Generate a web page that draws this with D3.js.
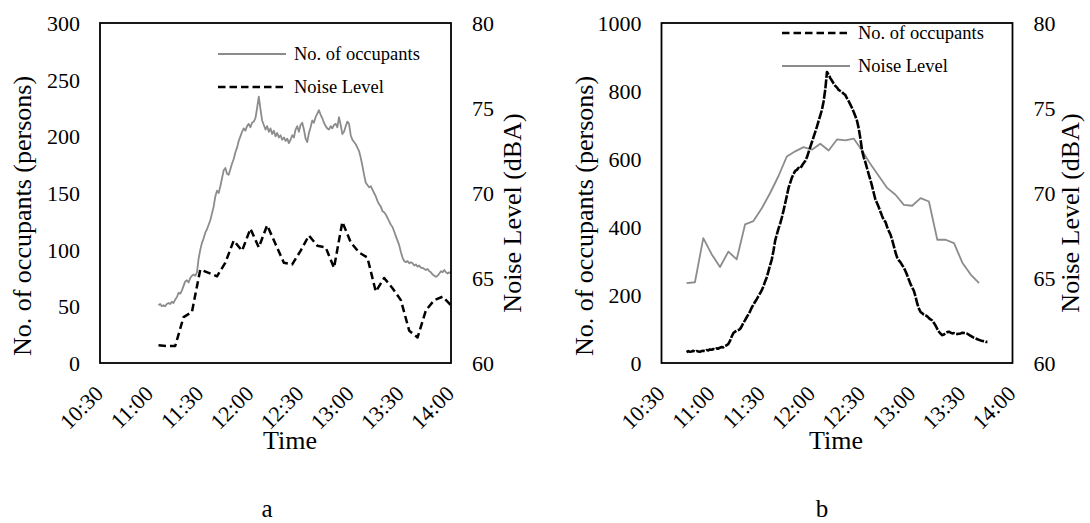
<!DOCTYPE html>
<html>
<head>
<meta charset="utf-8">
<script src="https://cdn.jsdelivr.net/npm/d3@7"></script>
<style>
  body { margin: 0; background: #fff; }
  svg text { font-family: "Liberation Serif", "Times New Roman", serif; fill: #000; }
</style>
</head>
<body>
<div id="chart"></div>
<script>
// x axis tick labels (shared by both panels)
var timeTicks = ["10:30", "11:00", "11:30", "12:00", "12:30", "13:00", "13:30", "14:00"];

// panel a: left axis ticks, right axis ticks
var occTicksA = [0, 50, 100, 150, 200, 250, 300];
var noiseTicks = [60, 65, 70, 75, 80];
// panel b: left axis ticks
var occTicksB = [0, 200, 400, 600, 800, 1000];

// panel a - occupants, one reading per minute starting 11:05
var occAStart = "11:05";
var occA = [
  51, 52, 50, 51, 50, 52, 53, 52, 54, 53,
  56, 58, 62, 61, 64, 68, 72, 73, 71, 75,
  77, 78, 77, 80, 92, 100, 106, 110, 115, 118,
  122, 126, 132, 138, 147, 152, 150, 156, 163, 170,
  172, 167, 166, 171, 176, 180, 186, 190, 196, 200,
  204, 207, 205, 209, 211, 208, 212, 213, 216, 225,
  235, 224, 214, 210, 206, 209, 204, 207, 202, 205,
  200, 203, 199, 201, 197, 199, 196, 198, 194, 197,
  201, 199, 206, 209, 204, 210, 212, 206, 198, 195,
  203, 208, 214, 212, 217, 220, 223, 219, 216, 212,
  209, 207, 206, 209, 207, 210, 211, 208, 217, 210,
  202, 204, 209, 213, 211, 201, 197, 195, 193, 190,
  187, 181, 174, 166, 159, 157, 155, 156, 153, 150,
  147, 143, 140, 138, 134, 133, 131, 128, 125, 122,
  120, 116, 112, 108, 104, 98, 93, 90, 89, 90,
  88, 89, 88, 86, 87, 85, 86, 84, 84, 83,
  82, 83, 81, 80, 78, 77, 76, 77, 79, 81,
  80, 82, 80, 79, 80, 79
];

// panel a - noise level (dBA), one reading every 5 minutes starting 11:05
var noiseAStart = "11:05";
var noiseA = [
  61.05, 61.0, 61.0, 62.7, 63.0, 65.5, 65.3, 65.1, 65.9, 67.2,
  66.6, 67.9, 66.8, 68.1, 67.0, 65.9, 65.8, 66.6, 67.5, 66.9,
  66.8, 65.6, 68.3, 67.1, 66.5, 66.2, 64.2, 65.0, 64.4, 63.7,
  61.9, 61.5, 63.1, 63.7, 63.9, 63.4
];

// panel b - occupants, one reading per minute starting 10:45
var occBStart = "10:45";
var occB = [
  32, 35, 33, 34, 36, 33, 35, 34, 33, 35,
  36, 35, 38, 37, 40, 39, 41, 40, 43, 42,
  45, 47, 46, 50, 52, 56, 65, 78, 88, 92,
  95, 97, 100, 108, 118, 126, 135, 143, 152, 163,
  172, 180, 188, 197, 205, 214, 226, 240, 252, 270,
  288, 305, 330, 360, 378, 395, 410, 428, 448, 470,
  492, 515, 530, 545, 556, 565, 568, 574, 572, 580,
  588, 594, 605, 620, 635, 650, 665, 680, 695, 712,
  728, 745, 770, 805, 856, 848, 838, 830, 822, 815,
  810, 803, 800, 797, 792, 788, 778, 770, 760, 750,
  738, 726, 712, 690, 660, 625, 605, 590, 572, 555,
  538, 520, 500, 480, 470, 458, 445, 432, 420, 415,
  400, 388, 378, 362, 344, 325, 310, 302, 296, 288,
  280, 270, 258, 245, 232, 222, 212, 195, 175, 160,
  150, 146, 142, 140, 137, 132, 128, 125, 118, 110,
  100, 92, 86, 82, 84, 88, 91, 92, 89, 87,
  88, 86, 85, 86, 87, 89, 88, 87, 86, 83,
  80, 77, 74, 72, 70, 68, 66, 65, 64, 62,
  62
];

// panel b - noise level (dBA), one reading every 5 minutes starting 10:45
var noiseBStart = "10:45";
var noiseB = [
  64.7, 64.75, 67.35, 66.4, 65.65, 66.55, 66.1, 68.15, 68.35, 69.1,
  70.0, 71.0, 72.15, 72.45, 72.7, 72.55, 72.9, 72.5, 73.15, 73.1,
  73.2, 72.5, 71.7, 71.0, 70.3, 69.9, 69.3, 69.25, 69.7, 69.5,
  67.25, 67.25, 67.05, 65.9, 65.2, 64.7
];

var width = 1090;
var height = 523;
var parseTime = d3.timeParse("%H:%M");
var fmtTime = d3.timeFormat("%H:%M");
var gray = "#8c8c8c";

var svg = d3
  .select("#chart")
  .append("svg")
  .attr("width", width)
  .attr("height", height);

// turn a value list with a start time and a step (minutes) into points
function series(start, step, values) {
  var t0 = parseTime(start);
  return values.map(function(v, i) {
    return { t: d3.timeMinute.offset(t0, i * step), v: v };
  });
}

function drawPanel(p) {
  var x = d3
    .scaleTime()
    .domain([parseTime(timeTicks[0]), parseTime(timeTicks[timeTicks.length - 1])])
    .range([p.left, p.left + p.w]);
  var yOcc = d3
    .scaleLinear()
    .domain([0, d3.max(p.occTicks)])
    .range([p.top + p.h, p.top]);
  var yNoise = d3
    .scaleLinear()
    .domain([60, 80])
    .range([p.top + p.h, p.top]);

  var g = svg.append("g").attr("class", "panel");

  // left axis
  var leftAxis = d3.axisLeft(yOcc)
    .tickValues(p.occTicks)
    .tickFormat(d3.format("d"))
    .tickSize(0)
    .tickPadding(20);
  g.append("g")
    .attr("transform", "translate(" + p.left + ",0)")
    .call(leftAxis)
    .call(function(a) { a.select(".domain").remove(); })
    .selectAll("text")
    .style("font-size", "22px")
    .attr("dy", "0.34em");

  // right axis
  var rightAxis = d3.axisRight(yNoise).tickValues(noiseTicks).tickSize(0).tickPadding(21);
  g.append("g")
    .attr("transform", "translate(" + (p.left + p.w) + ",0)")
    .call(rightAxis)
    .call(function(a) { a.select(".domain").remove(); })
    .selectAll("text")
    .style("font-size", "22px")
    .attr("dy", "0.34em");

  // bottom axis, labels turned 45 degrees
  var bottomAxis = d3
    .axisBottom(x)
    .tickValues(timeTicks.map(parseTime))
    .tickFormat(fmtTime)
    .tickSize(0);
  var bx = g.append("g")
    .attr("transform", "translate(0," + (p.top + p.h) + ")")
    .call(bottomAxis);
  bx.select(".domain").remove();
  bx.selectAll("text")
    .style("font-size", "22px")
    .attr("text-anchor", "end")
    .attr("x", 0)
    .attr("y", 0)
    .attr("dy", 0)
    .attr("transform", "translate(4,32) rotate(-45)");

  var occLine = d3.line()
    .x(function(d) { return x(d.t); })
    .y(function(d) { return yOcc(d.v); });
  var noiseLine = d3.line()
    .x(function(d) { return x(d.t); })
    .y(function(d) { return yNoise(d.v); });

  // noise level
  g.append("path")
    .datum(p.noise)
    .attr("d", noiseLine)
    .attr("fill", "none")
    .attr("stroke", p.noiseStyle.color)
    .attr("stroke-width", p.noiseStyle.width)
    .attr("stroke-dasharray", p.noiseStyle.dash)
    .attr("stroke-linejoin", "round");

  // occupants
  g.append("path")
    .datum(p.occ)
    .attr("d", occLine)
    .attr("fill", "none")
    .attr("stroke", p.occStyle.color)
    .attr("stroke-width", p.occStyle.width)
    .attr("stroke-dasharray", p.occStyle.dash)
    .attr("stroke-linejoin", "round");

  // plot frame
  g.append("rect")
    .attr("x", p.left)
    .attr("y", p.top)
    .attr("width", p.w)
    .attr("height", p.h)
    .attr("fill", "none")
    .attr("stroke", "#000")
    .attr("stroke-width", 1.8);

  // legend
  p.legend.forEach(function(item, i) {
    var ly = p.legendY + i * p.legendGap;
    g.append("line")
      .attr("x1", p.legendX)
      .attr("x2", p.legendX + 68)
      .attr("y1", ly)
      .attr("y2", ly)
      .attr("stroke", item.style.color)
      .attr("stroke-width", item.style.width)
      .attr("stroke-dasharray", item.style.legendDash || item.style.dash);
    g.append("text")
      .attr("x", p.legendX + 76)
      .attr("y", ly + 6)
      .style("font-size", "18.5px")
      .text(item.label);
  });

  // axis titles
  g.append("text")
    .attr("transform", "translate(" + (p.left - 69) + "," + (p.top + p.h / 2 + 23) + ") rotate(-90)")
    .attr("text-anchor", "middle")
    .style("font-size", "26px")
    .text("No. of occupants (persons)");
  g.append("text")
    .attr("transform", "translate(" + (p.left + p.w + p.rightTitleGap) + "," + (p.top + p.h / 2 + 20) + ") rotate(-90)")
    .attr("text-anchor", "middle")
    .style("font-size", "26px")
    .text("Noise Level (dBA)");
  g.append("text")
    .attr("x", p.timeX)
    .attr("y", 449)
    .attr("text-anchor", "middle")
    .style("font-size", "26px")
    .text("Time");
  g.append("text")
    .attr("x", p.tagX)
    .attr("y", 517)
    .attr("text-anchor", "middle")
    .style("font-size", "25px")
    .text(p.tag);
}

var solidGray = { color: gray, width: 1.8, dash: null };
var dashBlack = { color: "#000", width: 2.5, dash: "7.5,4" };
var denseBlack = { color: "#000", width: 2.6, dash: "9,1.5", legendDash: "7.5,4" };

drawPanel({
  left: 100, top: 23, w: 351, h: 340,
  occTicks: occTicksA,
  occ: series(occAStart, 1, occA),
  noise: series(noiseAStart, 5, noiseA),
  occStyle: solidGray,
  noiseStyle: dashBlack,
  legendX: 218, legendY: 54, legendGap: 33,
  legend: [
    { label: "No. of occupants", style: solidGray },
    { label: "Noise Level", style: dashBlack }
  ],
  rightTitleGap: 70,
  timeX: 290, tagX: 267, tag: "a"
});

drawPanel({
  left: 661.5, top: 23, w: 351, h: 340,
  occTicks: occTicksB,
  occ: series(occBStart, 1, occB),
  noise: series(noiseBStart, 5, noiseB),
  occStyle: denseBlack,
  noiseStyle: solidGray,
  legendX: 782, legendY: 33, legendGap: 33,
  legend: [
    { label: "No. of occupants", style: denseBlack },
    { label: "Noise Level", style: solidGray }
  ],
  rightTitleGap: 66,
  timeX: 836, tagX: 822, tag: "b"
});
</script>
</body>
</html>
